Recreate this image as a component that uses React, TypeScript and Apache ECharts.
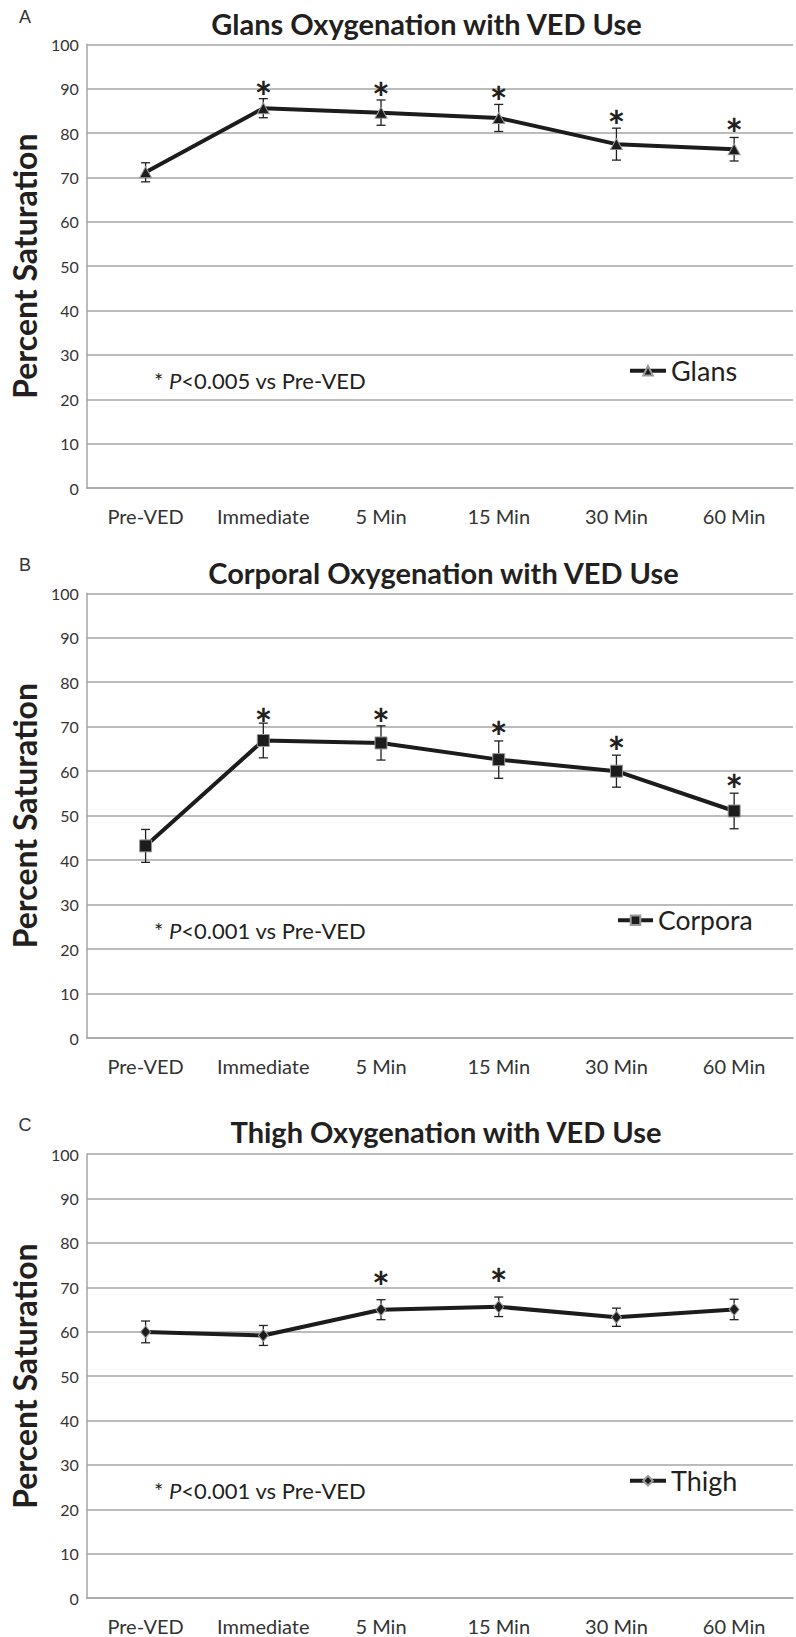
import React, { useEffect, useRef } from 'react';
import * as echarts from 'echarts';

const categories = ['Pre-VED', 'Immediate', '5 Min', '15 Min', '30 Min', '60 Min'];

const glansMean = [71.15, 85.6, 84.6, 83.4, 77.5, 76.35];
const glansErr = [2.15, 2.15, 2.85, 3.05, 3.6, 2.65];
const glansSig = [null, 89.9, 89.6, 88.7, 83.3, 81.6];

const corporaMean = [43.2, 66.9, 66.35, 62.6, 60.0, 51.05];
const corporaErr = [3.7, 3.9, 3.85, 4.2, 3.6, 4.0];
const corporaSig = [null, 72.4, 72.4, 69.5, 66.2, 57.6];

const thighMean = [59.95, 59.15, 64.95, 65.6, 63.25, 65.0];
const thighErr = [2.45, 2.25, 2.25, 2.2, 2.05, 2.3];
const thighSig = [null, null, 71.95, 72.5, null, null];

const yTicks = { min: 0, max: 100, interval: 10 };

const FONT = 'Lato, "Open Sans", sans-serif';
const INK = '#231f20';
const GRID = '#a6a6a6';

const panels = [
  {
    letter: 'A', title: 'Glans Oxygenation with VED Use', name: 'Glans',
    mean: glansMean, err: glansErr, sig: glansSig, note: '0.005',
    symbol: 'triangle', symbolSize: [12, 11], legendFont: 27, legendW: 36,
    top: 44.3, height: 443.7, titleX: 426.5, titleY: 23, letterY: 16.5,
    noteY: 380, legendX: 628, legendY: 370.7,
  },
  {
    letter: 'B', title: 'Corporal Oxygenation with VED Use', name: 'Corpora',
    mean: corporaMean, err: corporaErr, sig: corporaSig, note: '0.001',
    symbol: 'rect', symbolSize: [12, 12], legendFont: 26.5, legendW: 35,
    top: 593.3, height: 444.7, titleX: 443.5, titleY: 572, letterY: 565,
    noteY: 930, legendX: 616, legendY: 920,
  },
  {
    letter: 'C', title: 'Thigh Oxygenation with VED Use', name: 'Thigh',
    mean: thighMean, err: thighErr, sig: thighSig, note: '0.001',
    symbol: 'diamond', symbolSize: [10, 12], legendFont: 27, legendW: 36,
    top: 1154, height: 444.2, titleX: 446, titleY: 1131, letterY: 1125,
    noteY: 1490.7, legendX: 628, legendY: 1480.7,
  },
];

export default function App() {
  const ref = useRef<HTMLDivElement>(null);

  useEffect(() => {
    if (!ref.current) return;
    const chart = echarts.init(ref.current, null, { renderer: 'svg' });

    const grid: any[] = [];
    const xAxis: any[] = [];
    const yAxis: any[] = [];
    const series: any[] = [];
    const legend: any[] = [];
    const graphic: any[] = [];

    panels.forEach((p, i) => {
      grid.push({ left: 79, right: 3, top: p.top, height: p.height });
      xAxis.push({
        gridIndex: i, type: 'category', data: categories, boundaryGap: true,
        axisLine: { show: true, lineStyle: { color: GRID, width: 1.5 } },
        axisTick: { show: false },
        axisLabel: { interval: 0, fontSize: 20, margin: 18, color: '#333', fontFamily: FONT },
        splitLine: { show: false },
      });
      yAxis.push({
        gridIndex: i, type: 'value', min: yTicks.min, max: yTicks.max, interval: yTicks.interval,
        name: 'Percent Saturation', nameLocation: 'middle', nameGap: 43,
        nameTextStyle: { fontSize: 32, fontWeight: 'bold', fontFamily: FONT, color: INK },
        axisLine: { show: true, lineStyle: { color: GRID, width: 1.5 } },
        axisTick: { show: false },
        axisLabel: { fontSize: 16, margin: 8, color: '#333', fontFamily: FONT },
        splitLine: { show: true, lineStyle: { color: GRID, width: 1.5 } },
      });

      series.push({
        name: p.name + ' error', type: 'custom', xAxisIndex: i, yAxisIndex: i, z: 2,
        data: p.mean.map((m, j) => [j, m - p.err[j], m + p.err[j]]),
        encode: { x: 0, y: [1, 2] },
        renderItem: (params: any, api: any) => {
          const lo = api.coord([api.value(0), api.value(1)]);
          const hi = api.coord([api.value(0), api.value(2)]);
          const cx = lo[0];
          const st = { stroke: INK, lineWidth: 1.3 };
          return {
            type: 'group',
            children: [
              { type: 'line', shape: { x1: cx, y1: lo[1], x2: cx, y2: hi[1] }, style: st },
              { type: 'line', shape: { x1: cx - 4.5, y1: lo[1], x2: cx + 4.5, y2: lo[1] }, style: st },
              { type: 'line', shape: { x1: cx - 4.5, y1: hi[1], x2: cx + 4.5, y2: hi[1] }, style: st },
            ],
          };
        },
      });

      series.push({
        name: p.name, type: 'line', xAxisIndex: i, yAxisIndex: i, z: 3,
        data: p.mean,
        symbol: p.symbol, symbolSize: p.symbolSize, showSymbol: true,
        lineStyle: { color: '#1c1c1c', width: 4 },
        itemStyle: { color: '#1c1c1c', borderColor: '#9a9a9a', borderWidth: 1 },
      });

      const sigData: any[] = [];
      p.sig.forEach((v, j) => { if (v != null) sigData.push([j, v]); });
      series.push({
        name: p.name + ' sig', type: 'custom', xAxisIndex: i, yAxisIndex: i, z: 4,
        data: sigData,
        encode: { x: 0, y: 1 },
        renderItem: (params: any, api: any) => {
          const pt = api.coord([api.value(0), api.value(1)]);
          return {
            type: 'text', x: pt[0], y: pt[1] + 8,
            style: {
              text: '*', fontSize: 42, fontWeight: 'bold', fontFamily: FONT, fill: INK,
              textAlign: 'center', textVerticalAlign: 'middle',
            },
          };
        },
      });

      legend.push({
        data: [p.name], left: p.legendX, top: p.legendY - p.legendFont / 2, padding: 0,
        itemWidth: p.legendW, itemHeight: 12, itemGap: 0,
        lineStyle: { width: 4, color: '#1c1c1c' },
        textStyle: { fontSize: p.legendFont, fontFamily: FONT, color: INK },
      });

      graphic.push({
        type: 'text', x: p.titleX, y: p.titleY,
        style: {
          text: p.title, fontSize: 29, fontWeight: 'bold', fontFamily: FONT, fill: INK,
          textAlign: 'center', textVerticalAlign: 'middle',
        },
      });
      graphic.push({
        type: 'text', x: 25, y: p.letterY,
        style: {
          text: p.letter, fontSize: 18, fontFamily: '"Liberation Sans", Arial, sans-serif', fill: '#333',
          textAlign: 'center', textVerticalAlign: 'middle',
        },
      });
      graphic.push({
        type: 'text', x: 154, y: p.noteY,
        style: {
          text: '* {i|P}<' + p.note + ' vs Pre-VED', fontSize: 22, fontFamily: FONT, fill: INK,
          textAlign: 'left', textVerticalAlign: 'middle',
          rich: { i: { fontStyle: 'italic', fontSize: 22, fontFamily: FONT, fill: INK } },
        },
      });
    });

    chart.setOption({
      animation: false,
      backgroundColor: '#ffffff',
      grid, xAxis, yAxis, series, legend, graphic,
    });

    return () => chart.dispose();
  }, []);

  return (
    <div
      ref={ref}
      style={{ position: 'absolute', left: 0, top: 0, width: 796, height: 1637 }}
    />
  );
}
